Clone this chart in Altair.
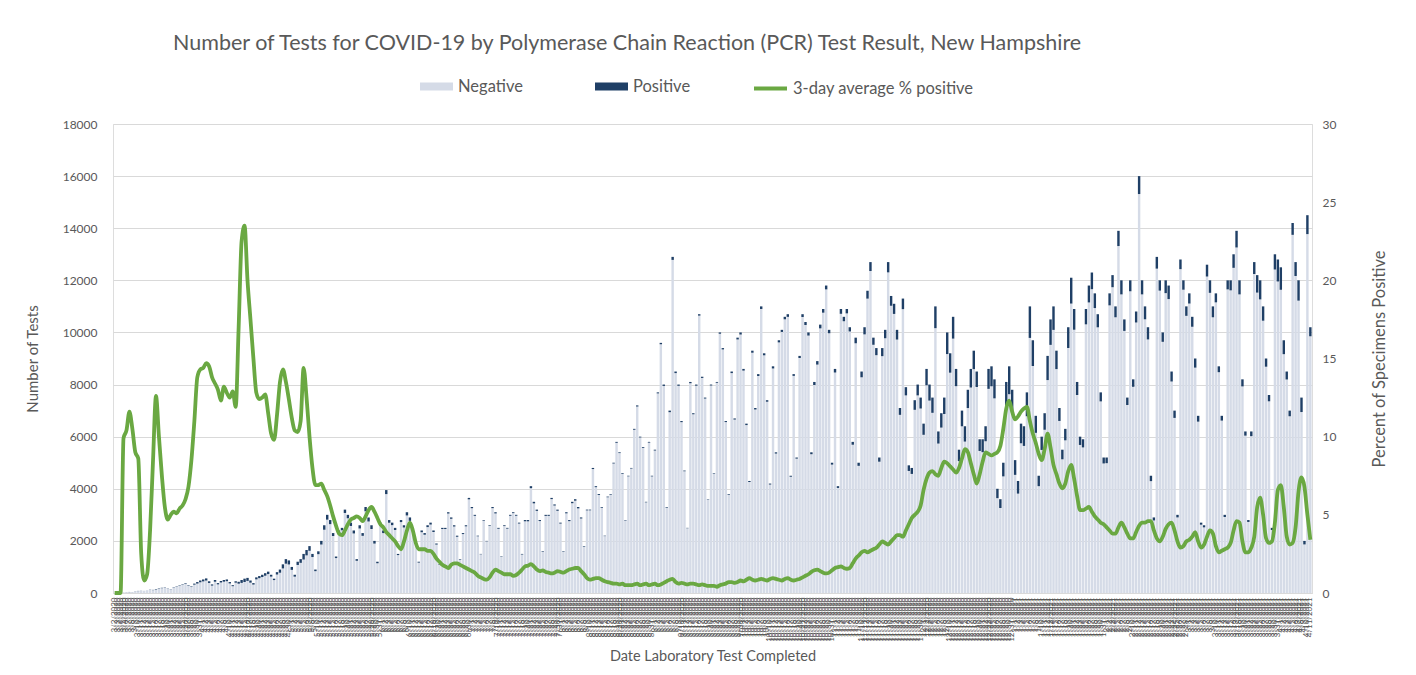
import altair as alt
import pandas as pd

START = "2020-03-02"

# Total PCR tests per day, one row per week
TOTAL_WEEKS = [
    [2, 5, 10, 20, 30, 40, 30],
    [60, 80, 100, 90, 110, 140, 120],
    [150, 170, 200, 220, 180, 150, 230],
    [260, 300, 330, 380, 300, 250, 360],
    [420, 480, 520, 560, 450, 330, 500],
    [380, 460, 500, 520, 420, 300, 450],
    [430, 500, 550, 580, 480, 380, 600],
    [650, 700, 760, 820, 700, 550, 800],
    [900, 1100, 1300, 1250, 1000, 700, 1200],
    [1300, 1500, 1650, 1800, 1500, 900, 1600],
    [2000, 2600, 3000, 2800, 2300, 1400, 2400],
    [2500, 3200, 3000, 2700, 2400, 1300, 2600],
    [2300, 3300, 2900, 2600, 2000, 1200, 2700],
    [2400, 3950, 2800, 2700, 2500, 1500, 2800],
    [2600, 3100, 2900, 2500, 2000, 1200, 2400],
    [2300, 2600, 2700, 2400, 1900, 1100, 2500],
    [2500, 3100, 2900, 2600, 2200, 1300, 2300],
    [2600, 3650, 3300, 3000, 2200, 1500, 2800],
    [2000, 2600, 3300, 3100, 2500, 1400, 2600],
    [2500, 3000, 3100, 3000, 2700, 1500, 2800],
    [2800, 4100, 3500, 3200, 2800, 1600, 3000],
    [3000, 3650, 3400, 3200, 2700, 1600, 3100],
    [2800, 3500, 3600, 3300, 2900, 1800, 3200],
    [3200, 4800, 4100, 3800, 3300, 2200, 3700],
    [3800, 5000, 5800, 5400, 4600, 2800, 4500],
    [4800, 6300, 7200, 6000, 5600, 3500, 5800],
    [4500, 5500, 7700, 9600, 8000, 3300, 7000],
    [12900, 8500, 8000, 6600, 4700, 2500, 8100],
    [6900, 8000, 10700, 8300, 7500, 3600, 8000],
    [4600, 8100, 10000, 9400, 6600, 3800, 8500],
    [6700, 9800, 10000, 8600, 6500, 4300, 9300],
    [7100, 8400, 11000, 9200, 7400, 4200, 8700],
    [5400, 9700, 10100, 10600, 10700, 4500, 8400],
    [5200, 9100, 10700, 10400, 10000, 5400, 8100],
    [8900, 10300, 10900, 11800, 10100, 5000, 8600],
    [4100, 10900, 10600, 10900, 10200, 5800, 9800],
    [5000, 8500, 10200, 11600, 12700, 9800, 9400],
    [5200, 9400, 10100, 12700, 11400, 11100, 10100],
    [7100, 11300, 7900, 4900, 4800, 7400, 8000],
    [7500, 6500, 8600, 8000, 7500, 11000, 6200],
    [6900, 7500, 10000, 9200, 10600, 8600, 5500],
    [7000, 6400, 7800, 8600, 9300, 8500, 5900],
    [5900, 6400, 8600, 8700, 8200, 4000, 3600],
    [5000, 8100, 8700, 7800, 5100, 4300, 6500],
    [6400, 7700, 11000, 9700, 6800, 4500, 6000],
    [6900, 9100, 10500, 11000, 9300, 7100, 5500],
    [6300, 10200, 12100, 10900, 8100, 6000, 5900],
    [10900, 11800, 12300, 11500, 10700, 7700, 5200],
    [5200, 11500, 12200, 11000, 13900, 12000, 10500],
    [7500, 12000, 8200, 10800, 16000, 12000, 11000],
    [10200, 4500, 2900, 12900, 12000, 10000, 12000],
    [11800, 8500, 7000, 3000, 12800, 12000, 11000],
    [11500, 10600, 9000, 6800, 2700, 2600, 12600],
    [12000, 11000, 11500, 8700, 6800, 3000, 12000],
    [12000, 13000, 13900, 12000, 8200, 6200, 2800],
    [6200, 12700, 12200, 12000, 11000, 9000, 7600],
    [2500, 13000, 12800, 12500, 9700, 8500, 7000],
    [14200, 12700, 12000, 7500, 2000, 14500, 10200],
]

# Positive PCR tests per day
POS_WEEKS = [
    [0, 0, 0, 2, 3, 5, 3],
    [6, 7, 2, 1, 1, 6, 10],
    [19, 17, 15, 12, 8, 8, 12],
    [13, 16, 18, 23, 20, 21, 40],
    [58, 69, 75, 82, 65, 46, 67],
    [49, 57, 66, 67, 53, 39, 54],
    [73, 113, 129, 116, 84, 57, 77],
    [81, 88, 97, 94, 71, 54, 91],
    [122, 157, 176, 155, 112, 73, 124],
    [143, 216, 206, 180, 120, 62, 110],
    [140, 172, 186, 157, 113, 60, 91],
    [93, 128, 132, 127, 115, 64, 125],
    [106, 162, 154, 143, 104, 58, 119],
    [101, 154, 104, 95, 83, 45, 78],
    [86, 124, 131, 100, 64, 34, 67],
    [64, 70, 73, 60, 42, 22, 45],
    [43, 50, 52, 49, 42, 23, 39],
    [42, 55, 46, 39, 24, 15, 25],
    [17, 26, 43, 47, 35, 18, 31],
    [30, 36, 34, 35, 35, 23, 48],
    [49, 76, 60, 48, 39, 23, 41],
    [39, 46, 44, 45, 36, 21, 43],
    [42, 54, 58, 53, 41, 22, 30],
    [27, 43, 39, 36, 28, 17, 26],
    [25, 30, 35, 30, 28, 14, 23],
    [24, 35, 43, 30, 31, 21, 29],
    [25, 33, 39, 53, 52, 25, 60],
    [116, 60, 48, 43, 28, 14, 49],
    [41, 44, 54, 46, 38, 16, 36],
    [21, 32, 50, 52, 40, 27, 60],
    [44, 69, 80, 65, 55, 41, 79],
    [57, 71, 99, 78, 59, 38, 83],
    [49, 82, 81, 95, 102, 38, 67],
    [44, 82, 107, 114, 120, 73, 117],
    [134, 144, 142, 148, 131, 73, 138],
    [68, 185, 170, 169, 163, 110, 216],
    [120, 221, 275, 302, 343, 274, 273],
    [161, 310, 323, 394, 376, 389, 374],
    [263, 407, 316, 216, 230, 370, 416],
    [420, 429, 628, 616, 585, 836, 465],
    [552, 630, 830, 745, 837, 662, 440],
    [602, 589, 702, 714, 707, 595, 448],
    [496, 576, 765, 766, 730, 360, 338],
    [525, 956, 1070, 905, 566, 486, 754],
    [755, 916, 1210, 989, 653, 400, 510],
    [635, 928, 977, 902, 707, 497, 369],
    [441, 796, 992, 796, 502, 318, 313],
    [589, 649, 640, 564, 503, 347, 229],
    [218, 460, 464, 418, 584, 540, 441],
    [285, 420, 287, 421, 688, 540, 495],
    [469, 207, 116, 452, 396, 360, 492],
    [519, 383, 280, 99, 371, 360, 363],
    [391, 382, 351, 224, 78, 81, 454],
    [480, 418, 345, 226, 184, 84, 348],
    [384, 520, 639, 540, 271, 161, 73],
    [180, 457, 671, 732, 550, 315, 243],
    [83, 585, 845, 863, 534, 306, 217],
    [454, 533, 780, 555, 136, 725, 347],
]

# 3-day average percent positive
PCT_WEEKS = [
    [0, 0, 0, 9.9, 10.4, 11.6, 10.5],
    [9.0, 8.6, 2.5, 0.8, 1.2, 4.0, 8.5],
    [12.6, 10.0, 7.5, 5.5, 4.7, 5.0, 5.2],
    [5.1, 5.4, 5.6, 6.0, 6.8, 8.5, 11.0],
    [13.8, 14.3, 14.4, 14.7, 14.5, 13.8, 13.4],
    [13.0, 12.3, 13.2, 12.8, 12.5, 12.9, 11.9],
    [17.0, 22.5, 23.5, 20.0, 17.5, 15.0, 12.8],
    [12.4, 12.5, 12.7, 11.5, 10.2, 9.8, 11.4],
    [13.5, 14.3, 13.5, 12.4, 11.2, 10.4, 10.3],
    [11.0, 14.4, 12.5, 10.0, 8.0, 6.9, 6.9],
    [7.0, 6.6, 6.2, 5.6, 4.9, 4.3, 3.8],
    [3.7, 4.0, 4.4, 4.7, 4.8, 4.9, 4.8],
    [4.6, 4.9, 5.3, 5.5, 5.2, 4.8, 4.4],
    [4.2, 3.9, 3.7, 3.5, 3.3, 3.0, 2.8],
    [3.3, 4.0, 4.5, 4.0, 3.2, 2.8, 2.8],
    [2.8, 2.7, 2.7, 2.5, 2.2, 2.0, 1.8],
    [1.7, 1.6, 1.8, 1.9, 1.9, 1.8, 1.7],
    [1.6, 1.5, 1.4, 1.3, 1.1, 1.0, 0.9],
    [0.85, 1.0, 1.3, 1.5, 1.4, 1.3, 1.2],
    [1.2, 1.2, 1.1, 1.15, 1.3, 1.5, 1.7],
    [1.75, 1.85, 1.7, 1.5, 1.4, 1.45, 1.35],
    [1.3, 1.25, 1.3, 1.4, 1.35, 1.3, 1.4],
    [1.5, 1.55, 1.6, 1.6, 1.4, 1.2, 0.95],
    [0.85, 0.9, 0.95, 0.95, 0.85, 0.75, 0.7],
    [0.65, 0.6, 0.6, 0.55, 0.6, 0.5, 0.5],
    [0.5, 0.55, 0.6, 0.5, 0.55, 0.6, 0.5],
    [0.55, 0.6, 0.5, 0.55, 0.65, 0.75, 0.85],
    [0.9, 0.7, 0.6, 0.65, 0.6, 0.55, 0.6],
    [0.6, 0.55, 0.5, 0.55, 0.5, 0.45, 0.45],
    [0.45, 0.4, 0.5, 0.55, 0.6, 0.7, 0.7],
    [0.65, 0.7, 0.8, 0.75, 0.85, 0.95, 0.85],
    [0.8, 0.85, 0.9, 0.85, 0.8, 0.9, 0.95],
    [0.9, 0.85, 0.8, 0.9, 0.95, 0.85, 0.8],
    [0.85, 0.9, 1.0, 1.1, 1.2, 1.35, 1.45],
    [1.5, 1.4, 1.3, 1.25, 1.3, 1.45, 1.6],
    [1.65, 1.7, 1.6, 1.55, 1.6, 1.9, 2.2],
    [2.4, 2.6, 2.7, 2.6, 2.7, 2.8, 2.9],
    [3.1, 3.3, 3.2, 3.1, 3.3, 3.5, 3.7],
    [3.7, 3.6, 4.0, 4.4, 4.8, 5.0, 5.2],
    [5.6, 6.6, 7.3, 7.7, 7.8, 7.6, 7.5],
    [8.0, 8.4, 8.3, 8.1, 7.9, 7.7, 8.0],
    [8.6, 9.2, 9.0, 8.3, 7.6, 7.0, 7.6],
    [8.4, 9.0, 8.9, 8.8, 8.9, 9.0, 9.4],
    [10.5, 11.8, 12.3, 11.6, 11.1, 11.3, 11.6],
    [11.8, 11.9, 11.0, 10.2, 9.6, 8.9, 8.5],
    [9.2, 10.2, 9.3, 8.2, 7.6, 7.0, 6.7],
    [7.0, 7.8, 8.2, 7.3, 6.2, 5.3, 5.3],
    [5.4, 5.5, 5.2, 4.9, 4.7, 4.5, 4.4],
    [4.2, 4.0, 3.8, 3.8, 4.2, 4.5, 4.2],
    [3.8, 3.5, 3.5, 3.9, 4.3, 4.5, 4.5],
    [4.6, 4.6, 4.0, 3.5, 3.3, 3.6, 4.1],
    [4.4, 4.5, 4.0, 3.3, 2.9, 3.0, 3.3],
    [3.4, 3.6, 3.9, 3.3, 2.9, 3.1, 3.6],
    [4.0, 3.8, 3.0, 2.6, 2.7, 2.8, 2.9],
    [3.2, 4.0, 4.6, 4.5, 3.3, 2.6, 2.6],
    [2.9, 3.6, 5.5, 6.1, 5.0, 3.5, 3.2],
    [3.3, 4.5, 6.6, 6.9, 5.5, 3.6, 3.1],
    [3.2, 4.2, 6.5, 7.4, 6.8, 5.0, 3.4],
]

LEFT_TICKS = [0, 2000, 4000, 6000, 8000, 10000, 12000, 14000, 16000, 18000]
RIGHT_TICKS = [0, 5, 10, 15, 20, 25, 30]
BAR_SERIES = ["Negative", "Positive"]
BAR_COLORS = ["#d5dbe7", "#1f3f66"]
LINE_SERIES = ["3-day average % positive"]
LINE_COLORS = ["#6aa842"]
TEXT = "#595959"
FONT = "Lato"

total = [v for w in TOTAL_WEEKS for v in w]
positive = [v for w in POS_WEEKS for v in w]
pct = [v for w in PCT_WEEKS for v in w]
n = len(total)
dates = pd.date_range(START, periods=n, freq="D")
labels = [f"{d.month}/{d.day}/{d.year}" for d in dates]

rows = []
for i in range(n):
    rows.append({"date": labels[i], "result": "Negative", "count": total[i] - positive[i], "ord": 0})
    rows.append({"date": labels[i], "result": "Positive", "count": positive[i], "ord": 1})
bars_df = pd.DataFrame(rows)
line_df = pd.DataFrame({"date": labels, "pct": pct, "series": LINE_SERIES[0]})

RECT = "M-1,-0.24L1,-0.24L1,0.24L-1,0.24Z"

bar_legend = alt.Legend(
    orient="none", legendX=307, legendY=-54, direction="horizontal", title=None,
    symbolType=RECT, symbolSize=1089, symbolStrokeWidth=0, symbolOpacity=1,
    labelFontSize=16.5, labelColor=TEXT, labelFont=FONT,
    columnPadding=72, labelOffset=5, labelLimit=400,
)
line_legend = alt.Legend(
    orient="none", legendX=639, legendY=-54, direction="horizontal", title=None,
    symbolType="stroke", symbolSize=1089, symbolStrokeWidth=3.8,
    labelFontSize=16.5, labelColor=TEXT, labelFont=FONT, labelOffset=4, labelLimit=400,
)

x_enc = alt.X(
    "date:N", sort=labels,
    scale=alt.Scale(paddingInner=0.18, paddingOuter=0.15),
    axis=alt.Axis(
        title="Date Laboratory Test Completed", titleFontSize=14.5, titleColor=TEXT,
        titleFont=FONT, titleFontWeight="normal", titlePadding=8,
        labelAngle=270, labelFontSize=8, labelColor="#555555", labelFont=FONT,
        labelOverlap=False, labelPadding=4, ticks=False, domainColor="#d9d9d9",
        labelLimit=200,
    ),
)

bars = alt.Chart(bars_df).mark_bar().encode(
    x=x_enc,
    y=alt.Y(
        "count:Q", stack="zero",
        scale=alt.Scale(domain=[0, 18000], nice=False),
        axis=alt.Axis(
            values=LEFT_TICKS, format="d", title="Number of Tests", titleFontSize=15,
            titleColor=TEXT, titleFont=FONT, titleFontWeight="normal",
            titlePadding=22, labelFontSize=12, labelColor=TEXT, labelFont=FONT,
            labelPadding=16, ticks=False, domain=False, grid=True,
            gridColor="#d9d9d9", gridWidth=1,
        ),
    ),
    color=alt.Color("result:N", scale=alt.Scale(domain=BAR_SERIES, range=BAR_COLORS), legend=bar_legend),
    order=alt.Order("ord:Q"),
)

line = alt.Chart(line_df).mark_line(strokeWidth=3.8, interpolate="monotone").encode(
    x=alt.X("date:N", sort=labels),
    y=alt.Y(
        "pct:Q",
        scale=alt.Scale(domain=[0, 30], nice=False),
        axis=alt.Axis(
            orient="right", values=RIGHT_TICKS, title="Percent of Specimens Positive",
            titleAngle=270, titleFontSize=16.5, titleColor=TEXT, titleFont=FONT,
            titleFontWeight="normal", titlePadding=52, labelFontSize=12,
            labelColor=TEXT, labelFont=FONT, labelPadding=10, ticks=False,
            domain=False, grid=False,
        ),
    ),
    stroke=alt.Stroke("series:N", scale=alt.Scale(domain=LINE_SERIES, range=LINE_COLORS), legend=line_legend),
)

chart = alt.layer(bars, line).resolve_scale(y="independent").properties(
    width=1199, height=469,
    autosize=alt.AutoSizeParams(type="none"),
    padding={"left": 105, "top": 116, "right": 96, "bottom": 74},
    title=alt.TitleParams(
        text="Number of Tests for COVID-19 by Polymerase Chain Reaction (PCR) Test Result, New Hampshire",
        anchor="start", frame="group", dx=60, fontSize=21.5, font=FONT,
        fontWeight="normal", color=TEXT, offset=16,
    ),
).configure_view(stroke=None).configure(background="white")

chart.save("out.html", embed_options={"renderer": "svg", "actions": False})
